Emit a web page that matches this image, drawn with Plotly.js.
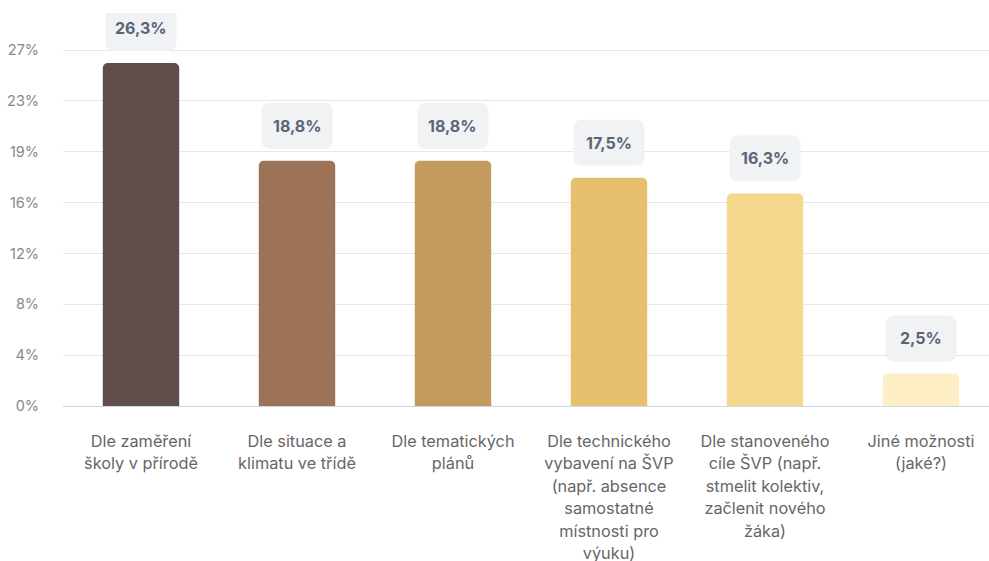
<!DOCTYPE html>
<html>
<head>
<meta charset="utf-8">
<script src="https://cdn.plot.ly/plotly-3.0.1.min.js"></script>
<style>html,body{margin:0;padding:0;background:#fff;}#chart{width:989px;height:561px;}</style>
</head>
<body>
<div id="chart"></div>
<script>
const categories = [
  "Dle zaměření<br>školy v přírodě",
  "Dle situace a<br>klimatu ve třídě",
  "Dle tematických<br>plánů",
  "Dle technického<br>vybavení na ŠVP<br>(např. absence<br>samostatné<br>místnosti pro<br>výuku)",
  "Dle stanoveného<br>cíle ŠVP (např.<br>stmelit kolektiv,<br>začlenit nového<br>žáka)",
  "Jiné možnosti<br>(jaké?)"
];
const values = [26.3, 18.8, 18.8, 17.5, 16.3, 2.5];
const valueLabels = ["26,3%", "18,8%", "18,8%", "17,5%", "16,3%", "2,5%"];
const barColors = ["#5f4e4b", "#9d7358", "#c49b5e", "#e5bf6b", "#f5d78e", "#fdeec6"];
const yTickVals = [0, 3.9, 7.8, 11.7, 15.6, 19.5, 23.4, 27.3];
const yTickText = ["0%", "4%", "8%", "12%", "16%", "19%", "23%", "27%"];

const tickText = categories.map(c => c.split("<br>").map(l => '<span style="font-size:16.3px">' + l + '</span>').join("<br>"));

const trace = {
  type: "bar",
  x: categories,
  y: values,
  width: 0.49,
  marker: { color: barColors, cornerradius: 5, line: { width: 0 } },
  hoverinfo: "none"
};

function boxPath(w, h, gap, r) {
  const x0 = -w / 2, x1 = w / 2, y0 = gap, y1 = gap + h;
  return `M ${x0 + r} ${y0} L ${x1 - r} ${y0} Q ${x1} ${y0} ${x1} ${y0 + r} L ${x1} ${y1 - r} Q ${x1} ${y1} ${x1 - r} ${y1} L ${x0 + r} ${y1} Q ${x0} ${y1} ${x0} ${y1 - r} L ${x0} ${y0 + r} Q ${x0} ${y0} ${x0 + r} ${y0} Z`;
}

const shapes = values.map((v, i) => ({
  type: "path",
  xref: "x", yref: "y",
  xsizemode: "pixel", ysizemode: "pixel",
  xanchor: i, yanchor: v,
  path: boxPath(71, 46, 12, 9),
  fillcolor: "#f0f2f3",
  line: { width: 0 },
  layer: "above"
}));

const annotations = values.map((v, i) => ({
  x: i, y: v, xref: "x", yref: "y",
  text: "<b>" + valueLabels[i] + "</b>",
  showarrow: false,
  yanchor: "middle",
  yshift: 35,
  font: { family: "Inter, sans-serif", size: 16, color: "#5a6478" }
}));

const layout = {
  width: 989, height: 561,
  margin: { l: 63, r: 0, t: 13, b: 155, pad: 0 },
  paper_bgcolor: "#ffffff",
  plot_bgcolor: "#ffffff",
  showlegend: false,
  font: { family: "Inter, sans-serif" },
  xaxis: {
    type: "category",
    range: [-0.5, 5.436],
    tickvals: categories,
    ticktext: tickText,
    tickfont: { family: "Inter, sans-serif", size: 17.3, color: "#666666" },
    ticks: "outside", ticklen: 19, tickcolor: "rgba(0,0,0,0)",
    showline: true, linecolor: "#ccd6eb", linewidth: 1,
    showgrid: false, zeroline: false, automargin: false, fixedrange: true
  },
  yaxis: {
    range: [0, 30.14],
    tickvals: yTickVals,
    ticktext: yTickText,
    tickfont: { family: "Inter, sans-serif", size: 14.5, color: "#888888" },
    ticks: "outside", ticklen: 20, tickcolor: "rgba(0,0,0,0)",
    showgrid: true, gridcolor: "#e6e6e6", gridwidth: 1,
    zeroline: false, showline: false, automargin: false, fixedrange: true
  },
  shapes: shapes,
  annotations: annotations
};

Plotly.newPlot("chart", [trace], layout, { displayModeBar: false, staticPlot: true });
</script>
</body>
</html>
